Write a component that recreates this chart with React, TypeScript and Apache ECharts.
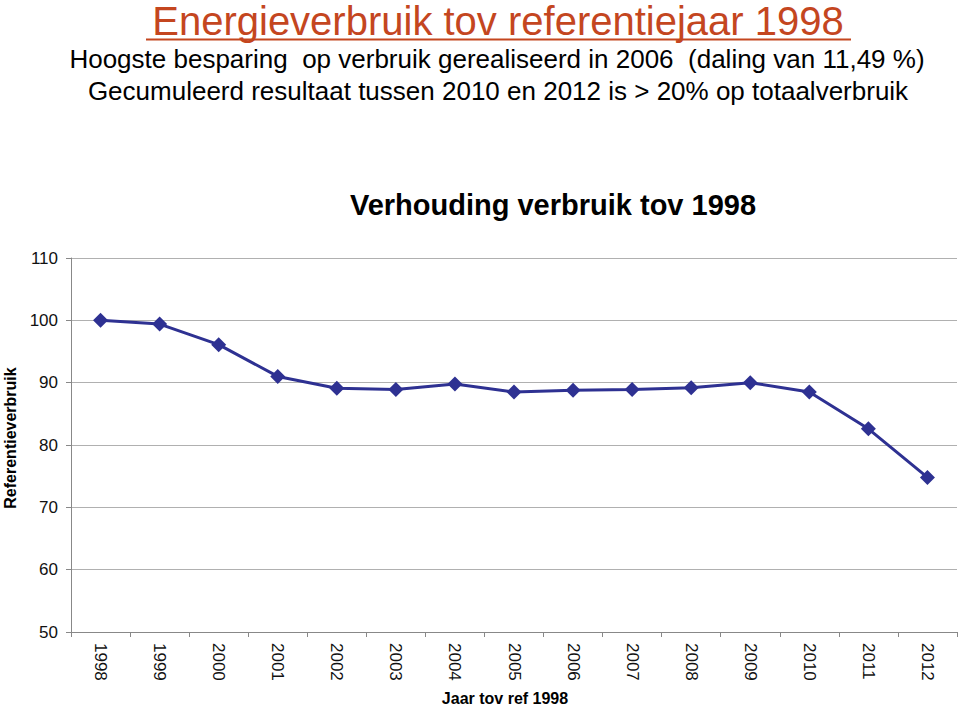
import React, { useEffect, useRef } from "react";
import * as echarts from "echarts";

const years = ["1998","1999","2000","2001","2002","2003","2004","2005","2006","2007","2008","2009","2010","2011","2012"];
const values = [100, 99.4, 96.1, 91.0, 89.1, 88.9, 89.8, 88.5, 88.8, 88.9, 89.2, 90.0, 88.5, 82.6, 74.8];
const yTicks = { min: 50, max: 110, interval: 10 };

const pageTitle = "Energieverbruik tov referentiejaar 1998";
const subLine1 = "Hoogste besparing  op verbruik gerealiseerd in 2006  (daling van 11,49 %)";
const subLine2 = "Gecumuleerd resultaat tussen 2010 en 2012 is > 20% op totaalverbruik";
const chartTitle = "Verhouding verbruik tov 1998";
const yName = "Referentieverbruik";
const xName = "Jaar tov ref 1998";

export default function App() {
  const ref = useRef<HTMLDivElement>(null);
  useEffect(() => {
    document.body.style.margin = "0";
    const chart = echarts.init(ref.current!, null, { renderer: "svg" });
    const font = "Liberation Sans, Arial, sans-serif";
    chart.setOption({
      animation: false,
      backgroundColor: "#ffffff",
      textStyle: { fontFamily: font },
      graphic: [
        {
          type: "text",
          x: 498,
          y: 21,
          style: { text: pageTitle, font: `40px ${font}`, fill: "#c4461f", align: "center", verticalAlign: "middle" },
        },
        {
          type: "line",
          shape: { x1: 146, y1: 39.5, x2: 851, y2: 39.5 },
          style: { stroke: "#c4461f", lineWidth: 2 },
        },
        {
          type: "text",
          x: 497,
          y: 59,
          style: { text: subLine1, font: `26px ${font}`, fill: "#000", align: "center", verticalAlign: "middle" },
        },
        {
          type: "text",
          x: 498,
          y: 91,
          style: { text: subLine2, font: `26px ${font}`, fill: "#000", align: "center", verticalAlign: "middle" },
        },
        {
          type: "text",
          x: 553,
          y: 205,
          style: { text: chartTitle, font: `bold 29px ${font}`, fill: "#000", align: "center", verticalAlign: "middle" },
        },
        {
          type: "text",
          x: 10,
          y: 438,
          rotation: Math.PI / 2,
          style: { text: yName, font: `bold 16px ${font}`, fill: "#000", align: "center", verticalAlign: "middle" },
        },
        {
          type: "text",
          x: 505,
          y: 698,
          style: { text: xName, font: `bold 16px ${font}`, fill: "#000", align: "center", verticalAlign: "middle" },
        },
      ],
      grid: { left: 71, top: 258, width: 886, height: 374, containLabel: false, outerBoundsMode: "none" },
      xAxis: {
        type: "category",
        data: years,
        boundaryGap: true,
        axisLine: { lineStyle: { color: "#888", width: 1 } },
        axisTick: { show: true, alignWithLabel: false, length: 5, lineStyle: { color: "#888" } },
        axisLabel: { rotate: -90, fontSize: 17, color: "#111", margin: 11, interval: 0 },
        splitLine: { show: false },
      },
      yAxis: {
        type: "value",
        min: yTicks.min,
        max: yTicks.max,
        interval: yTicks.interval,
        axisLine: { show: true, lineStyle: { color: "#888" } },
        axisTick: { show: true, length: 5, lineStyle: { color: "#888" } },
        axisLabel: { fontSize: 17, color: "#111", margin: 13 },
        splitLine: { lineStyle: { color: "#b0b0b0", width: 1 } },
      },
      series: [
        {
          type: "line",
          data: values,
          symbol: "diamond",
          symbolSize: 15,
          lineStyle: { color: "#2e3192", width: 3 },
          itemStyle: { color: "#2e3192" },
        },
      ],
    });
    return () => chart.dispose();
  }, []);
  return <div ref={ref} style={{ width: 960, height: 707 }} />;
}
